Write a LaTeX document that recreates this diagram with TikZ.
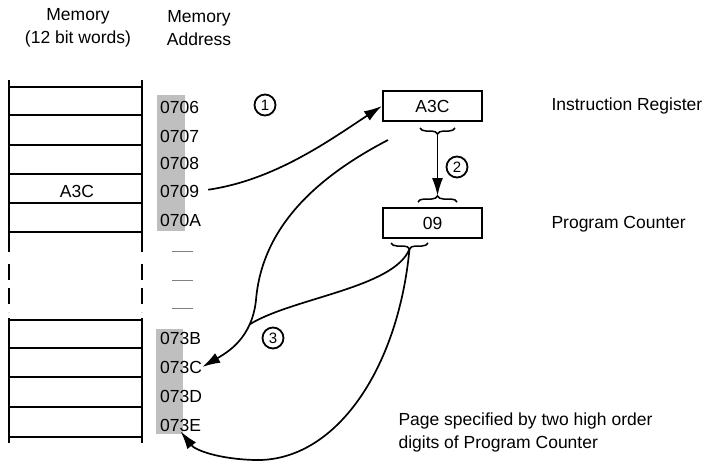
\documentclass[tikz,border=0pt]{standalone}
\usepackage{fontspec}
\setmainfont{Liberation Sans}
\usepackage{tikz}
\usetikzlibrary{arrows.meta,positioning,decorations.pathreplacing}

\begin{document}
\begin{tikzpicture}[
  x=1pt, y=-1pt,
  every node/.style={font=\fontsize{17.5}{23}\selectfont},
  mem/.style={line width=1.8pt},
  reg/.style={draw, line width=2.2pt, minimum width=99pt, minimum height=30pt, inner sep=0pt},
  addr/.style={anchor=west, inner sep=0pt},
  num/.style={circle, draw, line width=1.8pt, inner sep=0pt, minimum size=21pt, font=\fontsize{15}{15}\selectfont},
  arrow/.style={-{Latex[length=18pt,width=11pt]}, line width=1.7pt},
  wire/.style={line width=1.7pt},
  curly/.style={decorate, decoration={brace, amplitude=6pt}, line width=1.5pt}
]
\useasboundingbox (0,0) rectangle (707,464);

% column headings
\node[align=center] (memhead) at (78,28) {Memory\\(12 bit words)};
\node[align=center] (addrhead) at (199,28) {Memory\\Address};

% memory words
\foreach \y in {87,115,145,174,203,232,320,348,377,407,437}
  \draw[mem] (9,\y) -- (142,\y);
\foreach \x in {9,142} {
  \draw[mem] (\x,80) -- (\x,252);
  \draw[mem, dash pattern=on 16pt off 8pt] (\x,264) -- (\x,312);
  \draw[mem] (\x,318) -- (\x,443);
}
\node (word) at (77,191) {A3C};

% page part of the address
\fill[black!25] (157,95) rectangle (185,231);
\fill[black!25] (156,329) rectangle (183,434);

\foreach \a/\y in {0706/107,0707/136,0708/163,0709/191,070A/220,073B/338,073C/367,073D/396,073E/425}
  \node[addr] (a\a) at (160,\y) {\a};
\foreach \y in {251,280,308}
  \draw[gray, line width=1pt] (172,\y) -- (193,\y);

% registers
\node[reg] (ir) at (432.5,106) {A3C};
\node[reg] (pc) at (432.5,223) {09};
\node[anchor=west] (irlabel) at (548,106) {Instruction Register};
\node[anchor=west] (pclabel) at (548,224) {Program Counter};
\node[anchor=west, align=left] (note) at (395,432) {Page specified by two high order\\digits of Program Counter};

% braces
\draw[curly] (455,128) -- (420,128);
\draw[curly] (418,202) -- (457,202);
\draw[curly] (428,243) -- (391,243);
\coordinate (irtip) at (437.5,134);
\coordinate (pctop) at (437.5,196);
\coordinate (pctip) at (409.5,249);
\coordinate (irlow) at (388,140);
\coordinate (merge) at (249.6,324.4);

% steps
\node[num] (s1) at (265,105) {1};
\node[num] (s2) at (457,167) {2};
\node[num] (s3) at (273,338) {3};

\draw[arrow, shorten <=9pt] (a0709.east) .. controls (275,180) and (330,140) .. (ir.west);
\draw[arrow] (irtip) -- (pctop);
\draw[arrow] (irlow) .. controls (315,178) and (262,228) .. (256,300) .. controls (252,338) and (228,352) .. (a073C.east);
\draw[wire] (pctip) .. controls (394,288) and (292,298) .. (merge);
\draw[arrow] (pctip) .. controls (398,370) and (335,462) .. (255,460) .. controls (218,459) and (195,450) .. (a073E.south);
\end{tikzpicture}
\end{document}
